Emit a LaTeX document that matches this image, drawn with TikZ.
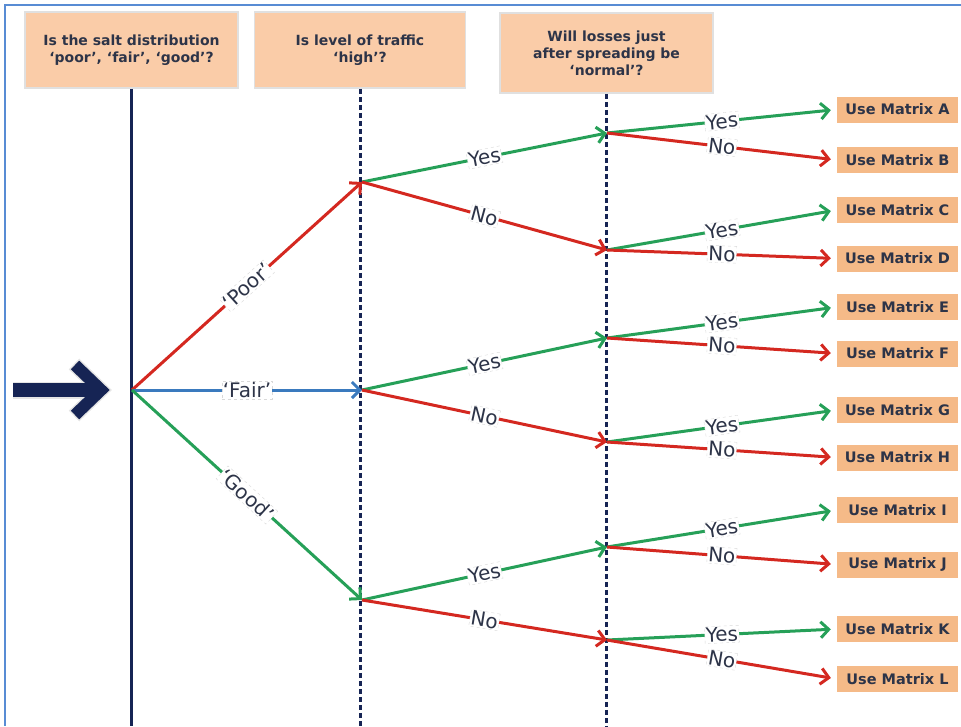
\documentclass[tikz,border=0pt]{standalone}
\usepackage{fontspec}
\setmainfont{DejaVu Sans}
\usepackage{xcolor}
\usepackage{tikz}
\usetikzlibrary{
	arrows.meta,
	positioning
}
\definecolor{navy}{RGB}{22,36,84}
\definecolor{inkgray}{RGB}{45,52,72}
\definecolor{peach}{RGB}{250,204,168}
\definecolor{matrixorange}{RGB}{245,186,136}
\definecolor{yesgreen}{RGB}{38,160,88}
\definecolor{nored}{RGB}{212,40,32}
\definecolor{fairblue}{RGB}{58,122,190}
\definecolor{frameblue}{RGB}{88,140,212}

\begin{document}
\begin{tikzpicture}[x=1pt,y=-1pt,
		question/.style={fill=peach,draw=black!12,line width=1.5pt,
			minimum height=76pt,align=center,text=inkgray,
			font=\fontsize{14}{17}\selectfont\bfseries},
		outcome/.style={fill=matrixorange,minimum width=121pt,minimum height=26pt,
			text=inkgray,font=\fontsize{14.5}{15}\selectfont\bfseries},
		answer/.style={fill=white,draw=black!15,dashed,line width=0.4pt,
			inner sep=1pt,sloped,text=inkgray,font=\fontsize{20}{20}\selectfont},
		branch/.style={line width=3pt,-{Straight Barb[length=8pt,width=16pt]}},
		stage/.style={line width=3pt,navy,dash pattern=on 5pt off 3pt}]
		\useasboundingbox (0,0) rectangle (961,726);
		\draw[frameblue,line width=2pt] (961,5) -- (5,5) -- (5,726);
		\coordinate (bottom) at (0,726);

		\node[question,minimum width=213pt] (salt) at (131.5,50)
			{Is the salt distribution\\‘poor’, ‘fair’, ‘good’?};
		\node[question,minimum width=211pt] (traffic) at (360,50)
			{Is level of traffic\\‘high’?};
		\node[question,minimum width=213pt,minimum height=80pt] (losses) at (606.5,53)
			{Will losses just\\after spreading be\\‘normal’?};

		\draw[navy,line width=3pt] (salt.south) -- (salt.south |- bottom);
		\draw[stage] (traffic.south) -- (traffic.south |- bottom);
		\draw[stage] (losses.south) -- (losses.south |- bottom);

		\coordinate (root) at (132,390);
		\coordinate (poor) at (362,182);
		\coordinate (fair) at (362,390);
		\coordinate (good) at (362,600);
		\coordinate (poorhigh) at (607,133);
		\coordinate (poorlow) at (607,250);
		\coordinate (fairhigh) at (607,338);
		\coordinate (fairlow) at (607,442);
		\coordinate (goodhigh) at (607,547);
		\coordinate (goodlow) at (607,640);

		\node[outcome] (matA) at (897.5,109.5) {Use Matrix A};
		\node[outcome] (matB) at (897.5,160) {Use Matrix B};
		\node[outcome] (matC) at (897.5,210) {Use Matrix C};
		\node[outcome] (matD) at (897.5,258.5) {Use Matrix D};
		\node[outcome] (matE) at (897.5,307) {Use Matrix E};
		\node[outcome] (matF) at (897.5,353.5) {Use Matrix F};
		\node[outcome] (matG) at (897.5,410) {Use Matrix G};
		\node[outcome] (matH) at (897.5,457.5) {Use Matrix H};
		\node[outcome] (matI) at (897.5,510) {Use Matrix I};
		\node[outcome] (matJ) at (897.5,564.5) {Use Matrix J};
		\node[outcome] (matK) at (897.5,629) {Use Matrix K};
		\node[outcome] (matL) at (897.5,679) {Use Matrix L};

		\coordinate (start) at (13,390);
		\draw[black!10,line width=17pt] (start) -- ([xshift=-36pt]root);
		\draw[black!10,line width=15pt,miter limit=10] (74,364) -- (101,390) -- (74,416);
		\draw[navy,line width=14pt] (start) -- ([xshift=-34pt]root);
		\draw[navy,line width=12pt,miter limit=10] (75,365) -- (101,390) -- (75,415);

		\draw[branch,nored] (root) -- (poor) node[answer,midway] {‘Poor’};
		\draw[branch,fairblue] (root) -- (fair) node[answer,midway] {‘Fair’};
		\draw[branch,yesgreen] (root) -- (good) node[answer,midway] {‘Good’};

		\draw[branch,yesgreen] (poor) -- (poorhigh) node[answer,midway] {Yes};
		\draw[branch,nored] (poor) -- (poorlow) node[answer,midway] {No};
		\draw[branch,yesgreen] (fair) -- (fairhigh) node[answer,midway] {Yes};
		\draw[branch,nored] (fair) -- (fairlow) node[answer,midway] {No};
		\draw[branch,yesgreen] (good) -- (goodhigh) node[answer,midway] {Yes};
		\draw[branch,nored] (good) -- (goodlow) node[answer,midway] {No};

		\draw[branch,yesgreen,shorten >=6pt] (poorhigh) -- (matA.west) node[answer,midway] {Yes};
		\draw[branch,nored,shorten >=6pt] (poorhigh) -- (matB.west) node[answer,midway] {No};
		\draw[branch,yesgreen,shorten >=6pt] (poorlow) -- (matC.west) node[answer,midway] {Yes};
		\draw[branch,nored,shorten >=6pt] (poorlow) -- (matD.west) node[answer,midway] {No};
		\draw[branch,yesgreen,shorten >=6pt] (fairhigh) -- (matE.west) node[answer,midway] {Yes};
		\draw[branch,nored,shorten >=6pt] (fairhigh) -- (matF.west) node[answer,midway] {No};
		\draw[branch,yesgreen,shorten >=6pt] (fairlow) -- (matG.west) node[answer,midway] {Yes};
		\draw[branch,nored,shorten >=6pt] (fairlow) -- (matH.west) node[answer,midway] {No};
		\draw[branch,yesgreen,shorten >=6pt] (goodhigh) -- (matI.west) node[answer,midway] {Yes};
		\draw[branch,nored,shorten >=6pt] (goodhigh) -- (matJ.west) node[answer,midway] {No};
		\draw[branch,yesgreen,shorten >=6pt] (goodlow) -- (matK.west) node[answer,midway] {Yes};
		\draw[branch,nored,shorten >=6pt] (goodlow) -- (matL.west) node[answer,midway] {No};
	\end{tikzpicture}
\end{document}
